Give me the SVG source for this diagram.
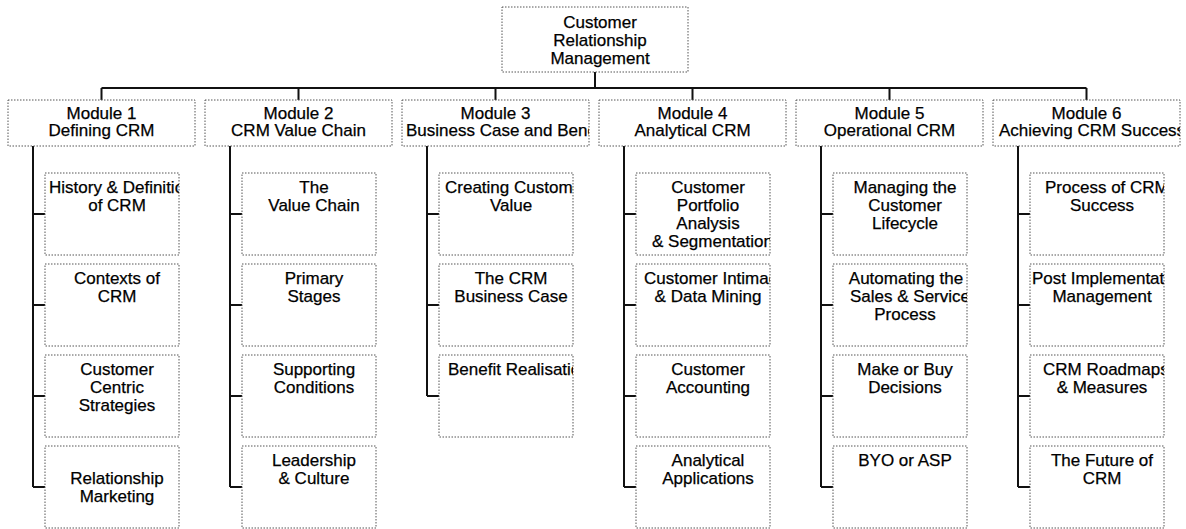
<svg xmlns="http://www.w3.org/2000/svg" width="1186" height="529" viewBox="0 0 1186 529">
<style>
.box{fill:#fff;stroke:#555;stroke-width:1;stroke-dasharray:1.5 1.5}
.t{font-family:"Liberation Sans",Arial,sans-serif;font-size:17px;fill:#000;stroke:#000;stroke-width:0.25;text-anchor:middle}
.s{text-anchor:start}
.conn{stroke:#111;stroke-width:2;fill:none}
</style>
<defs>
<clipPath id="cm3"><rect x="402" y="100" width="187" height="46"/></clipPath>
<clipPath id="cm6"><rect x="993" y="100" width="187" height="46"/></clipPath>
<clipPath id="c11"><rect x="45" y="173" width="134" height="82"/></clipPath>
<clipPath id="c31"><rect x="439" y="173" width="134" height="82"/></clipPath>
<clipPath id="c33"><rect x="439" y="355" width="134" height="82"/></clipPath>
<clipPath id="c41"><rect x="636" y="173" width="134" height="82"/></clipPath>
<clipPath id="c42"><rect x="636" y="264" width="134" height="82"/></clipPath>
<clipPath id="c52"><rect x="833" y="264" width="134" height="82"/></clipPath>
<clipPath id="c61"><rect x="1030" y="173" width="134" height="82"/></clipPath>
<clipPath id="c62"><rect x="1030" y="264" width="134" height="82"/></clipPath>
<clipPath id="c63"><rect x="1030" y="355" width="134" height="82"/></clipPath>
</defs>
<rect width="1186" height="529" fill="#fff"/>
<g id="connectors" class="conn">
<path d="M595 72V88M101.5 88H1086.5M101.5 88V100M298.5 88V100M495.5 88V100M692.5 88V100M889.5 88V100M1086.5 88V100"/>
<path d="M33 146V487M33 214H45M33 305H45M33 396H45M33 487H45"/>
<path d="M230 146V487M230 214H242M230 305H242M230 396H242M230 487H242"/>
<path d="M427 146V396M427 214H439M427 305H439M427 396H439"/>
<path d="M624 146V487M624 214H636M624 305H636M624 396H636M624 487H636"/>
<path d="M821 146V487M821 214H833M821 305H833M821 396H833M821 487H833"/>
<path d="M1018 146V487M1018 214H1030M1018 305H1030M1018 396H1030M1018 487H1030"/>
</g>
<g id="root"><rect class="box" x="502" y="7" width="186" height="65"/>
<text class="t" x="600" y="28">Customer</text><text class="t" x="600" y="46">Relationship</text><text class="t" x="600" y="63.5">Management</text></g>
<g id="m1"><rect class="box" x="8" y="100" width="187" height="46"/><text class="t" x="101.5" y="118.5">Module 1</text><text class="t" x="101.5" y="136">Defining CRM</text></g>
<g id="m2"><rect class="box" x="205" y="100" width="187" height="46"/><text class="t" x="298.5" y="118.5">Module 2</text><text class="t" x="298.5" y="136">CRM Value Chain</text></g>
<g id="m3"><rect class="box" x="402" y="100" width="187" height="46"/><g clip-path="url(#cm3)"><text class="t" x="495.5" y="118.5">Module 3</text><text class="t s" x="406" y="136">Business Case and Benefits</text></g></g>
<g id="m4"><rect class="box" x="599" y="100" width="187" height="46"/><text class="t" x="692.5" y="118.5">Module 4</text><text class="t" x="692.5" y="136">Analytical CRM</text></g>
<g id="m5"><rect class="box" x="796" y="100" width="187" height="46"/><text class="t" x="889.5" y="118.5">Module 5</text><text class="t" x="889.5" y="136">Operational CRM</text></g>
<g id="m6"><rect class="box" x="993" y="100" width="187" height="46"/><g clip-path="url(#cm6)"><text class="t" x="1086.5" y="118.5">Module 6</text><text class="t s" x="999" y="136">Achieving CRM Success</text></g></g>

<g id="m1c1"><rect class="box" x="45" y="173" width="134" height="82"/><g clip-path="url(#c11)"><text class="t s" x="49" y="193">History &amp; Definition</text><text class="t" x="117" y="211">of CRM</text></g></g>
<g id="m1c2"><rect class="box" x="45" y="264" width="134" height="82"/><text class="t" x="117" y="284">Contexts of</text><text class="t" x="117" y="302">CRM</text></g>
<g id="m1c3"><rect class="box" x="45" y="355" width="134" height="82"/><text class="t" x="117" y="375">Customer</text><text class="t" x="117" y="393">Centric</text><text class="t" x="117" y="411">Strategies</text></g>
<g id="m1c4"><rect class="box" x="45" y="446" width="134" height="82"/><text class="t" x="117" y="484">Relationship</text><text class="t" x="117" y="502">Marketing</text></g>

<g id="m2c1"><rect class="box" x="242" y="173" width="134" height="82"/><text class="t" x="314" y="193">The</text><text class="t" x="314" y="211">Value Chain</text></g>
<g id="m2c2"><rect class="box" x="242" y="264" width="134" height="82"/><text class="t" x="314" y="284">Primary</text><text class="t" x="314" y="302">Stages</text></g>
<g id="m2c3"><rect class="box" x="242" y="355" width="134" height="82"/><text class="t" x="314" y="375">Supporting</text><text class="t" x="314" y="393">Conditions</text></g>
<g id="m2c4"><rect class="box" x="242" y="446" width="134" height="82"/><text class="t" x="314" y="466">Leadership</text><text class="t" x="314" y="484">&amp; Culture</text></g>

<g id="m3c1"><rect class="box" x="439" y="173" width="134" height="82"/><g clip-path="url(#c31)"><text class="t s" x="445" y="193">Creating Customer</text><text class="t" x="511" y="211">Value</text></g></g>
<g id="m3c2"><rect class="box" x="439" y="264" width="134" height="82"/><text class="t" x="511" y="284">The CRM</text><text class="t" x="511" y="302">Business Case</text></g>
<g id="m3c3"><rect class="box" x="439" y="355" width="134" height="82"/><g clip-path="url(#c33)"><text class="t s" x="448" y="375">Benefit Realisation</text></g></g>

<g id="m4c1"><rect class="box" x="636" y="173" width="134" height="82"/><g clip-path="url(#c41)"><text class="t" x="708" y="193">Customer</text><text class="t" x="708" y="211">Portfolio</text><text class="t" x="708" y="229">Analysis</text><text class="t s" x="652" y="247">&amp; Segmentation</text></g></g>
<g id="m4c2"><rect class="box" x="636" y="264" width="134" height="82"/><g clip-path="url(#c42)"><text class="t s" x="644" y="284">Customer Intimacy</text><text class="t" x="708" y="302">&amp; Data Mining</text></g></g>
<g id="m4c3"><rect class="box" x="636" y="355" width="134" height="82"/><text class="t" x="708" y="375">Customer</text><text class="t" x="708" y="393">Accounting</text></g>
<g id="m4c4"><rect class="box" x="636" y="446" width="134" height="82"/><text class="t" x="708" y="466">Analytical</text><text class="t" x="708" y="484">Applications</text></g>

<g id="m5c1"><rect class="box" x="833" y="173" width="134" height="82"/><text class="t" x="905" y="193">Managing the</text><text class="t" x="905" y="211">Customer</text><text class="t" x="905" y="229">Lifecycle</text></g>
<g id="m5c2"><rect class="box" x="833" y="264" width="134" height="82"/><g clip-path="url(#c52)"><text class="t" x="906" y="284">Automating the</text><text class="t s" x="850" y="302">Sales &amp; Service</text><text class="t" x="905" y="320">Process</text></g></g>
<g id="m5c3"><rect class="box" x="833" y="355" width="134" height="82"/><text class="t" x="905" y="375">Make or Buy</text><text class="t" x="905" y="393">Decisions</text></g>
<g id="m5c4"><rect class="box" x="833" y="446" width="134" height="82"/><text class="t" x="905" y="466">BYO or ASP</text></g>

<g id="m6c1"><rect class="box" x="1030" y="173" width="134" height="82"/><g clip-path="url(#c61)"><text class="t s" x="1045" y="193">Process of CRM</text><text class="t" x="1102" y="211">Success</text></g></g>
<g id="m6c2"><rect class="box" x="1030" y="264" width="134" height="82"/><g clip-path="url(#c62)"><text class="t s" x="1032" y="284">Post Implementation</text><text class="t" x="1102" y="302">Management</text></g></g>
<g id="m6c3"><rect class="box" x="1030" y="355" width="134" height="82"/><g clip-path="url(#c63)"><text class="t s" x="1043" y="375">CRM Roadmaps</text><text class="t" x="1102" y="393">&amp; Measures</text></g></g>
<g id="m6c4"><rect class="box" x="1030" y="446" width="134" height="82"/><text class="t" x="1102" y="466">The Future of</text><text class="t" x="1102" y="484">CRM</text></g>
</svg>
